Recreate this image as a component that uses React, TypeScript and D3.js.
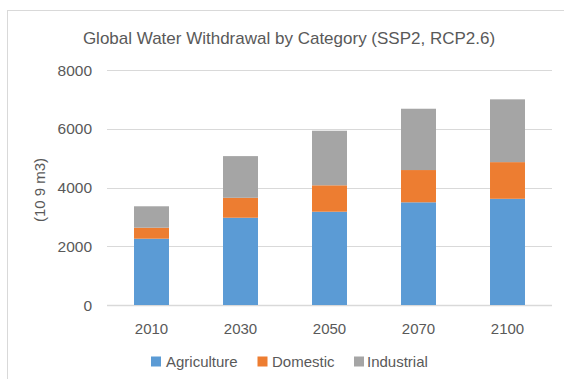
import React from "react";
import * as d3 from "d3";

const years = ["2010", "2030", "2050", "2070", "2100"];
const agriculture = [2260, 2975, 3180, 3500, 3620];
const domestic = [375, 680, 900, 1100, 1250];
const industrial = [730, 1420, 1860, 2090, 2140];
const seriesNames = ["Agriculture", "Domestic", "Industrial"];
const seriesColors = ["#5B9BD5", "#ED7D31", "#A5A5A5"];
const yTicks = [0, 2000, 4000, 6000, 8000];

const W = 564;
const H = 379;
const font = "'Liberation Sans', Arial, sans-serif";
const textColor = "#595959";

export default function App() {
  const x = d3.scaleBand().domain(years).range([107, 552]).paddingInner(0.607).paddingOuter(0.3035);
  const y = d3.scaleLinear().domain([0, 8000]).range([305, 70.3]);

  const rows = years.map((yr, i) => ({
    year: yr,
    Agriculture: agriculture[i],
    Domestic: domestic[i],
    Industrial: industrial[i],
  }));
  const stacked = d3.stack<any>().keys(seriesNames)(rows);

  const legendItems = [
    { name: "Agriculture", sx: 151, tx: 166 },
    { name: "Domestic", sx: 257.5, tx: 272 },
    { name: "Industrial", sx: 354, tx: 367 },
  ];

  return (
    <svg width={W} height={H} style={{ position: "absolute", left: 0, top: 0 }}>
      <rect x={0} y={0} width={W} height={H} fill="#fff" />
      <rect x={7.5} y={10.5} width={W + 10} height={H + 10} fill="none" stroke="#D9D9D9" strokeWidth={1} />
      <text x={289} y={44} textAnchor="middle" fontFamily={font} fontSize={17} fill={textColor}>
        Global Water Withdrawal by Category (SSP2, RCP2.6)
      </text>
      {yTicks.map((t) => (
        <g key={t}>
          <line x1={107} x2={552} y1={Math.round(y(t)) + 0.5} y2={Math.round(y(t)) + 0.5} stroke="#D9D9D9" strokeWidth={t === 0 ? 1.5 : 1} />
          <text x={92} y={y(t) + 5.5} textAnchor="end" fontFamily={font} fontSize={15.5} fill={textColor}>
            {t}
          </text>
        </g>
      ))}
      {stacked.map((s, si) =>
        s.map((d, i) => (
          <rect
            key={`${si}-${i}`}
            x={x(years[i])!}
            y={y(d[1])}
            width={x.bandwidth()}
            height={y(d[0]) - y(d[1])}
            fill={seriesColors[si]}
          />
        ))
      )}
      {years.map((yr) => (
        <text key={yr} x={x(yr)! + x.bandwidth() / 2} y={334} textAnchor="middle" fontFamily={font} fontSize={15} fill={textColor}>
          {yr}
        </text>
      ))}
      <text
        transform={`translate(45,190) rotate(-90)`}
        textAnchor="middle"
        fontFamily={font}
        fontSize={15}
        fill={textColor}
      >
        (10 9 m3)
      </text>
      {legendItems.map((l, i) => (
        <g key={l.name}>
          <rect x={l.sx} y={356.5} width={10} height={10} fill={seriesColors[i]} />
          <text x={l.tx} y={366.5} fontFamily={font} fontSize={15} fill={textColor}>
            {l.name}
          </text>
        </g>
      ))}
    </svg>
  );
}
